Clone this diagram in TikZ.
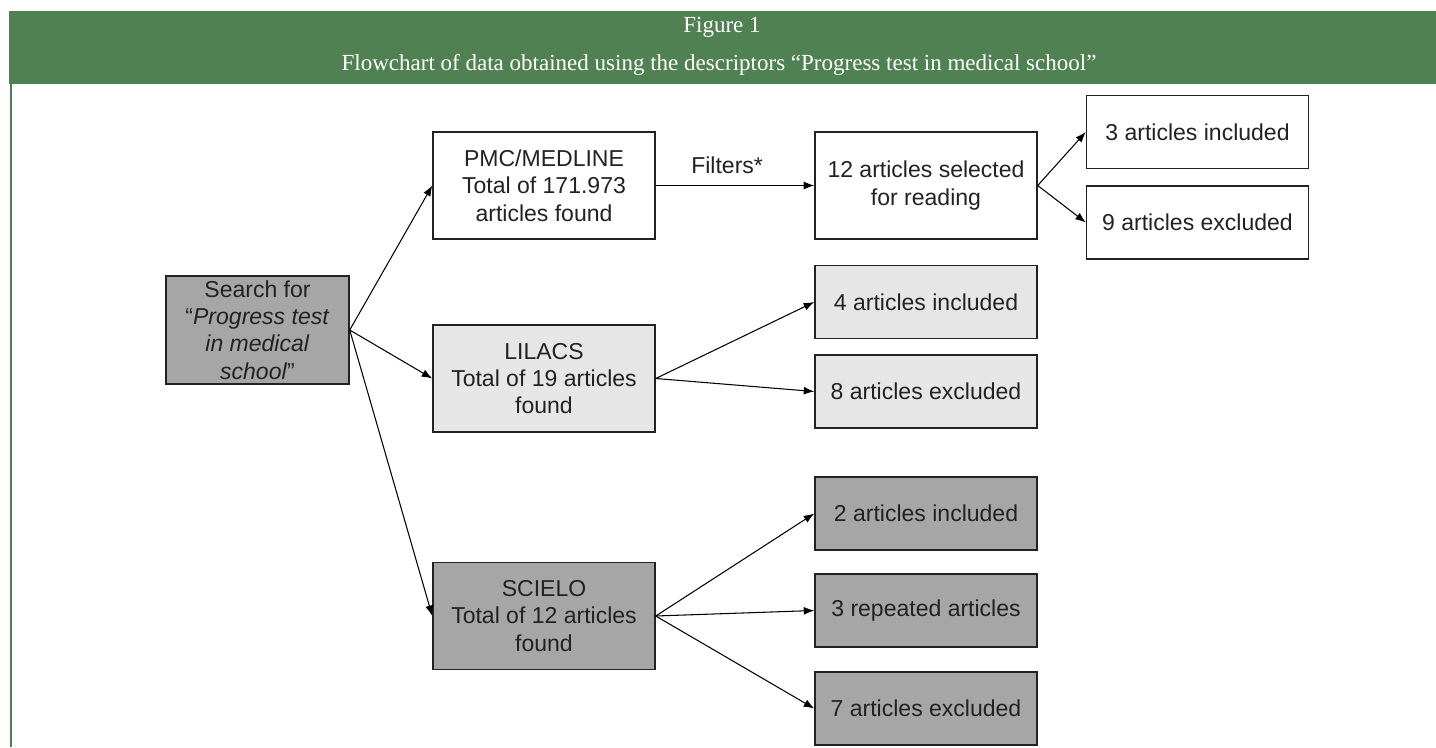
\documentclass[tikz,border=0pt]{standalone}
\usepackage{fontspec}
\setmainfont{Liberation Sans}
\newfontfamily\headfont{Liberation Serif}
\usetikzlibrary{arrows.meta,positioning}

\definecolor{headgreen}{HTML}{4F8152}
\definecolor{darkgrey}{HTML}{A6A6A6}
\definecolor{lightgrey}{HTML}{E6E6E6}
\definecolor{inkgrey}{HTML}{222222}

\begin{document}
\begin{tikzpicture}[
    x = 0.02cm, y = -0.02cm, % one unit per pixel
    > = {Latex[length=6pt,width=4.5pt]}, % arrow head style
    line width = 0.6pt % line style
    ]

    \tikzset{box/.style={
    draw = inkgrey,
    line width = 0.85pt,
    align = center,
    inner sep = 2pt,
    text = inkgrey,
    font = \fontsize{13.1}{15.6}\selectfont
    },
    big/.style={box, minimum width = 4.44cm, minimum height = 2.14cm},
    small/.style={box, minimum width = 4.44cm, minimum height = 1.46cm}
    }

    % page and header
    \useasboundingbox[fill=white] (0,0) rectangle (1436,747);
    \fill[headgreen] (9,11) rectangle (1436,84);
    \draw[headgreen, line width=1.7pt] (11,84) -- (11,747);
    \node[text=white, font=\headfont\fontsize{13.1}{15}\selectfont] (fig) at (722,27) {Figure 1};
    \node[text=white, font=\headfont\fontsize{13.1}{15}\selectfont] (caption) at (719,65)
        {Flowchart of data obtained using the descriptors “Progress test in medical school”};

    % search
    \node[box, fill=darkgrey, minimum width=3.66cm, minimum height=2.16cm] (search) at (257.5,330)
        {Search for\\“\textit{Progress test}\\\textit{in medical}\\\textit{school}”};

    % databases
    \node[big] (pmc) at (544,185.5) {PMC/MEDLINE\\Total of 171.973\\articles found};
    \node[big, fill=lightgrey] (lilacs) at (544,378.5) {LILACS\\Total of 19 articles\\found};
    \node[big, fill=darkgrey] (scielo) at (544,616) {SCIELO\\Total of 12 articles\\found};

    % results
    \node[big] (selected) at (926,185.5) {12 articles selected\\for reading};
    \node[small] (incl3) at (1197.5,132) {3 articles included};
    \node[small] (excl9) at (1197.5,222.5) {9 articles excluded};
    \node[small, fill=lightgrey] (incl4) at (926,302) {4 articles included};
    \node[small, fill=lightgrey] (excl8) at (926,391.5) {8 articles excluded};
    \node[small, fill=darkgrey] (incl2) at (926,513.5) {2 articles included};
    \node[small, fill=darkgrey] (rep3) at (926,610.5) {3 repeated articles};
    \node[small, fill=darkgrey] (excl7) at (926,708.5) {7 articles excluded};

    % connectors
    \draw[->] (search.east) -- (pmc.west);
    \draw[->] (search.east) -- (lilacs.west);
    \draw[->] (search.east) -- (scielo.west);
    \draw[->] (pmc.east) -- node[above=3pt, pos=0.45, text=inkgrey, font=\fontsize{13.1}{15.6}\selectfont] (filt) {Filters*} (selected.west);
    \draw[->] (selected.east) -- (incl3.west);
    \draw[->] (selected.east) -- (excl9.west);
    \draw[->] (lilacs.east) -- (incl4.west);
    \draw[->] (lilacs.east) -- (excl8.west);
    \draw[->] (scielo.east) -- (incl2.west);
    \draw[->] (scielo.east) -- (rep3.west);
    \draw[->] (scielo.east) -- (excl7.west);
\end{tikzpicture}
\end{document}
